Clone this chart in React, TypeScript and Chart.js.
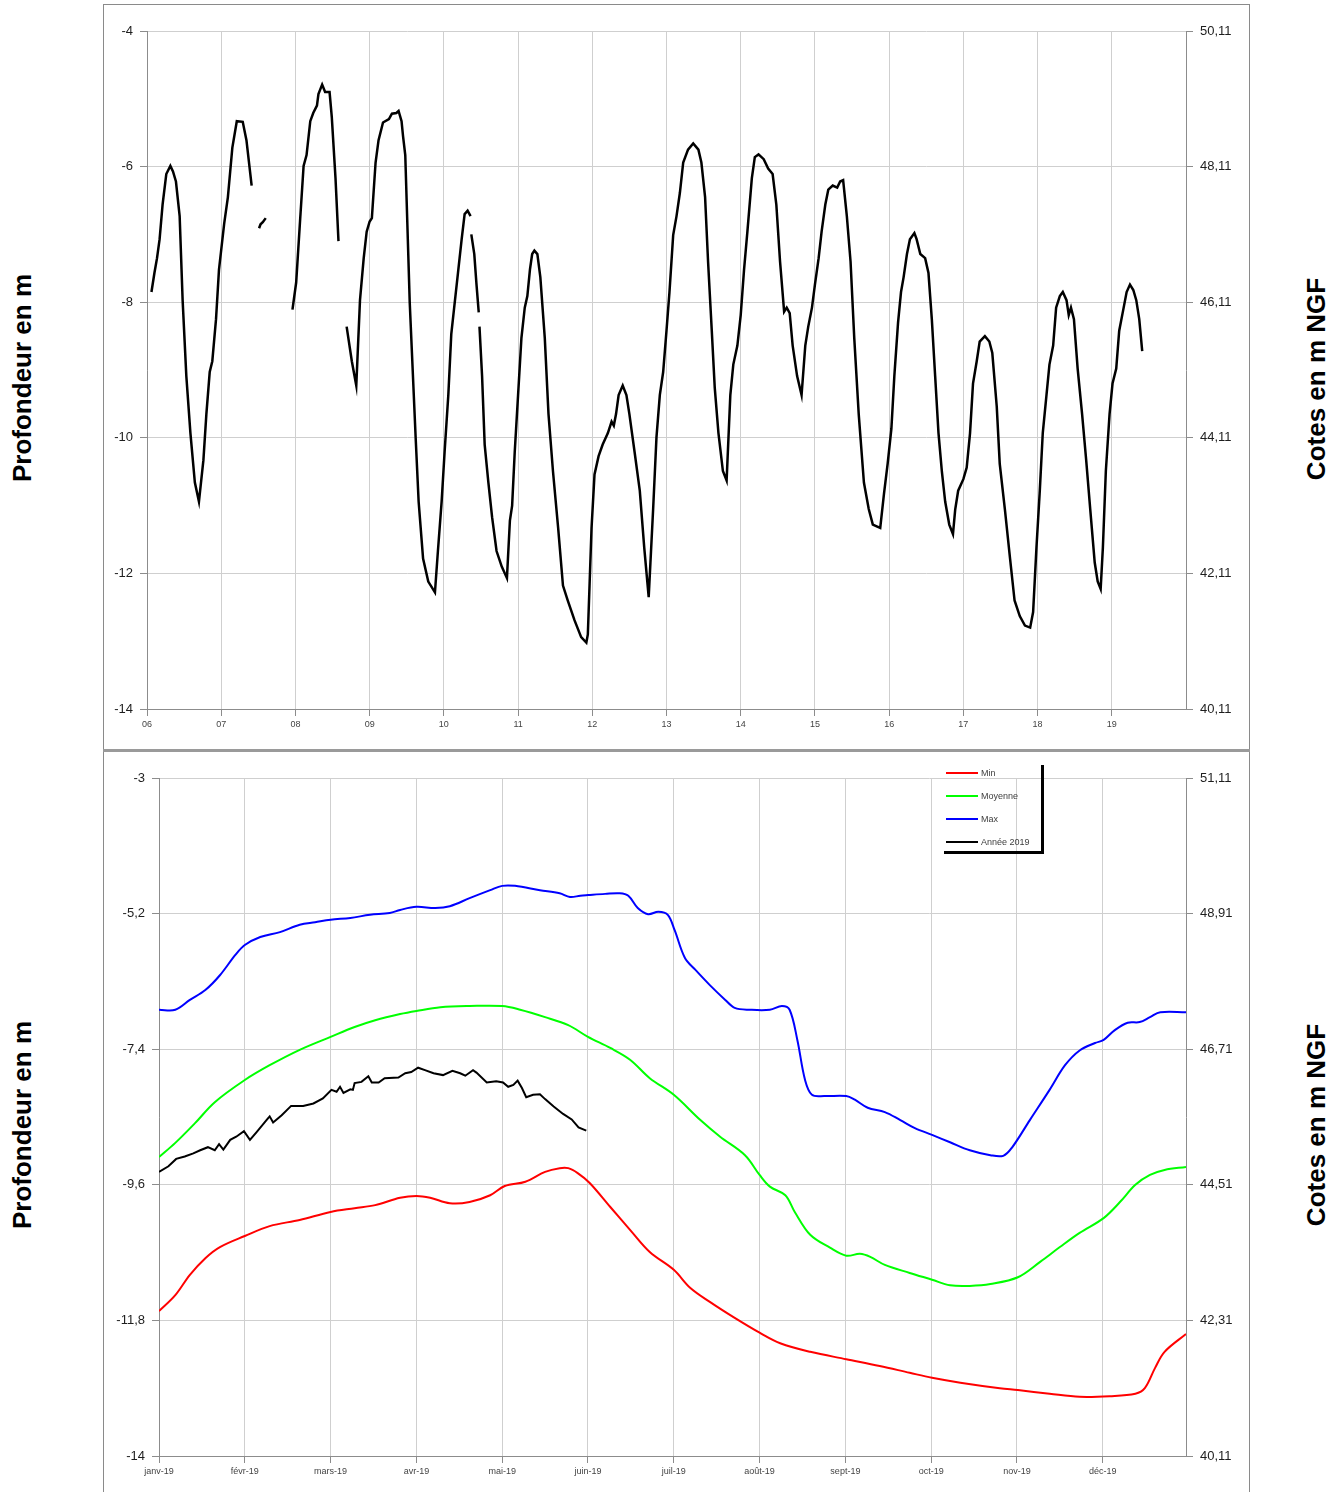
import React, { useEffect, useRef } from 'react';
import { Chart, registerables } from 'chart.js';

Chart.register(...registerables);

// ---------- Top chart: long-term series (year since 2000, depth in m) ----------
const topYears = [
  6.06, 6.10, 6.135, 6.17, 6.21, 6.26, 6.315, 6.35, 6.39, 6.44, 6.48, 6.53, 6.585, 6.645, 6.70, 6.76, 6.80, 6.845, 6.88, 6.93, 6.97, 7.04, 7.09, 7.15, 7.21, 7.29, 7.34, 7.41,
  7.46,
  7.51, 7.53, 7.56, 7.60,
  7.80,
  7.96, 8.01, 8.06, 8.11, 8.15, 8.20, 8.24, 8.29, 8.31, 8.36, 8.40, 8.46, 8.49, 8.54, 8.58,
  8.64,
  8.69, 8.76, 8.82, 8.87, 8.92, 8.96, 9.00, 9.03, 9.08, 9.12, 9.18, 9.26, 9.30, 9.36, 9.39, 9.43, 9.45, 9.48, 9.54, 9.62, 9.66, 9.72, 9.79, 9.88, 9.92, 9.97, 10.01, 10.06, 10.10, 10.15, 10.19, 10.24, 10.28, 10.32, 10.36,
  10.365,
  10.37, 10.41, 10.44, 10.47,
  10.475,
  10.48, 10.515, 10.55, 10.60, 10.65, 10.71, 10.78, 10.85, 10.89, 10.92, 10.955, 11.00, 11.045, 11.09, 11.125, 11.16, 11.19, 11.22, 11.26, 11.30, 11.36, 11.41, 11.47, 11.54, 11.605, 11.67, 11.76, 11.85, 11.92, 11.94, 11.99, 12.03, 12.085, 12.14, 12.21, 12.26, 12.29, 12.32, 12.355, 12.41, 12.46, 12.50, 12.57, 12.64, 12.70, 12.76,
  12.82, 12.865, 12.91, 12.955, 13.00, 13.04, 13.09, 13.135, 13.18, 13.225, 13.29, 13.36, 13.43, 13.47, 13.52, 13.56, 13.61, 13.65, 13.70, 13.76, 13.81, 13.86, 13.90, 13.955, 14.00, 14.045, 14.09, 14.15, 14.19, 14.24, 14.31, 14.37, 14.43, 14.48, 14.53, 14.585, 14.62, 14.66, 14.70, 14.76, 14.82, 14.87, 14.91, 14.96, 15.00, 15.05, 15.09, 15.14, 15.18, 15.24, 15.30, 15.34, 15.38, 15.43, 15.48, 15.53, 15.59, 15.66, 15.725, 15.78, 15.84, 15.88, 15.93, 15.98, 16.03, 16.07, 16.12, 16.16, 16.195, 16.24, 16.28, 16.34, 16.37, 16.42, 16.485, 16.53, 16.575, 16.62, 16.665, 16.71, 16.755, 16.81, 16.86, 16.89, 16.93, 17.00, 17.045, 17.09, 17.13, 17.18, 17.22, 17.29, 17.35, 17.39, 17.45, 17.49, 17.56, 17.63, 17.69, 17.76, 17.83, 17.90, 17.94, 17.985, 18.03, 18.07, 18.12, 18.16, 18.21, 18.25, 18.30, 18.34, 18.39, 18.42, 18.45, 18.49, 18.54, 18.60, 18.655, 18.71, 18.77, 18.81, 18.85, 18.88, 18.92, 18.97, 19.01, 19.06, 19.10, 19.16, 19.20, 19.245, 19.29, 19.33, 19.37, 19.41,
];
const topDepths = [
  -7.85, -7.57, -7.35, -7.07, -6.56, -6.11, -5.99, -6.07, -6.22, -6.73, -7.97, -9.09, -9.93, -10.66, -10.94, -10.33, -9.65, -9.03, -8.87, -8.25, -7.52, -6.84, -6.45, -5.72, -5.33, -5.34, -5.61, -6.28,
  null,
  -6.91, -6.85, -6.82, -6.76,
  null,
  -8.11, -7.71, -6.84, -5.99, -5.83, -5.33, -5.21, -5.10, -4.93, -4.79, -4.90, -4.90, -5.27, -6.17, -7.10,
  null,
  -8.36, -8.87, -9.23, -7.97, -7.35, -6.96, -6.81, -6.76, -5.94, -5.61, -5.35, -5.30, -5.22, -5.21, -5.18, -5.33, -5.55, -5.83, -8.0, -10.0, -10.94, -11.78, -12.12, -12.28, -11.67, -10.94, -10.21, -9.37, -8.47, -7.97, -7.57, -7.07, -6.70, -6.65, -6.73,
  null,
  -7.0, -7.29, -7.74, -8.15,
  null,
  -8.36, -9.09, -10.10, -10.66, -11.17, -11.67, -11.90, -12.07, -11.22, -11.0, -10.21, -9.37, -8.53, -8.08, -7.91, -7.52, -7.29, -7.24, -7.29, -7.63, -8.53, -9.65, -10.49, -11.33, -12.18, -12.40, -12.69, -12.94, -13.02, -12.90, -11.33, -10.54, -10.27, -10.10, -9.93, -9.76, -9.82, -9.65, -9.37, -9.23, -9.37, -9.65, -10.21, -10.78, -11.62, -12.35,
  -11.05, -9.99, -9.37, -9.03, -8.42, -7.85, -7.01, -6.73, -6.39, -5.94, -5.75, -5.66, -5.75, -5.94, -6.45, -7.40, -8.42, -9.26, -9.93, -10.49, -10.63, -9.37, -8.92, -8.64, -8.19, -7.52, -6.96, -6.17, -5.86, -5.82, -5.89, -6.03, -6.11, -6.56, -7.40, -8.14, -8.08, -8.16, -8.64, -9.09, -9.37, -8.64, -8.36, -8.08, -7.74, -7.35, -6.96, -6.56, -6.34, -6.28, -6.31, -6.22, -6.20, -6.73, -7.40, -8.53, -9.65, -10.66, -11.05, -11.28, -11.31, -11.33, -10.83, -10.38, -9.87, -9.09, -8.30, -7.85, -7.63, -7.29, -7.07, -6.98, -7.07, -7.29, -7.35, -7.57, -8.25, -9.09, -9.93, -10.49, -10.94, -11.28, -11.42, -11.06, -10.78, -10.61, -10.44, -9.93, -9.20, -8.87, -8.58, -8.50, -8.58, -8.75, -9.54, -10.38, -11.06, -11.79, -12.40, -12.63, -12.77, -12.80, -12.57, -11.62, -10.78, -9.93, -9.37, -8.92, -8.64, -8.08, -7.91, -7.85, -7.97, -8.19, -8.08, -8.25, -8.98, -9.65, -10.33, -11.06, -11.84, -12.12, -12.23, -11.62, -10.49, -9.65, -9.20, -8.98, -8.42, -8.08, -7.85, -7.74, -7.82, -7.97, -8.25, -8.72,
];
const topYearTicks = [6, 7, 8, 9, 10, 11, 12, 13, 14, 15, 16, 17, 18, 19];
const topDepthTicks = [-14, -12, -10, -8, -6, -4];
const topNgfTicks = [40.11, 42.11, 44.11, 46.11, 48.11, 50.11];

// ---------- Bottom chart: 2019 vs Min / Moyenne / Max (x = month index) ----------
const monthLabels = ['janv-19', 'févr-19', 'mars-19', 'avr-19', 'mai-19', 'juin-19', 'juil-19', 'août-19', 'sept-19', 'oct-19', 'nov-19', 'déc-19'];
const monthTicks = [0, 1, 2, 3, 4, 5, 6, 7, 8, 9, 10, 11];

const minMonths = [0, 0.19, 0.36, 0.54, 0.71, 1.0, 1.29, 1.64, 2.0, 2.28, 2.52, 2.81, 3.0, 3.16, 3.39, 3.62, 3.86, 4.03, 4.27, 4.50, 4.67, 4.77, 4.88, 5.02, 5.26, 5.49, 5.72, 6.00, 6.19, 6.42, 6.71, 7.00, 7.24, 7.59, 8.01, 8.40, 8.75, 9.01, 9.34, 9.80, 10.01, 10.38, 10.73, 11.08, 11.38, 11.49, 11.61, 11.72, 11.97];
const minValues = [-11.65, -11.39, -11.06, -10.79, -10.61, -10.43, -10.27, -10.17, -10.04, -9.98, -9.93, -9.81, -9.78, -9.81, -9.90, -9.88, -9.77, -9.62, -9.55, -9.39, -9.33, -9.33, -9.41, -9.57, -9.96, -10.33, -10.69, -10.98, -11.27, -11.50, -11.76, -12.00, -12.17, -12.31, -12.43, -12.54, -12.65, -12.73, -12.81, -12.90, -12.93, -12.99, -13.04, -13.03, -12.99, -12.90, -12.57, -12.31, -12.02];

const moyMonths = [0, 0.19, 0.42, 0.65, 1.0, 1.29, 1.64, 2.0, 2.28, 2.52, 2.81, 3.0, 3.28, 3.62, 4.0, 4.21, 4.50, 4.77, 5.0, 5.26, 5.49, 5.72, 6.00, 6.31, 6.54, 6.83, 7.00, 7.12, 7.30, 7.41, 7.59, 7.82, 8.01, 8.17, 8.29, 8.46, 8.75, 9.01, 9.22, 9.45, 9.69, 10.01, 10.27, 10.50, 10.73, 11.01, 11.20, 11.38, 11.55, 11.72, 11.97];
const moyValues = [-9.15, -8.92, -8.60, -8.26, -7.90, -7.66, -7.41, -7.20, -7.04, -6.93, -6.83, -6.78, -6.72, -6.70, -6.70, -6.76, -6.88, -7.01, -7.20, -7.38, -7.57, -7.87, -8.14, -8.55, -8.82, -9.12, -9.44, -9.63, -9.77, -10.04, -10.41, -10.62, -10.75, -10.72, -10.77, -10.90, -11.03, -11.14, -11.23, -11.24, -11.21, -11.10, -10.85, -10.61, -10.38, -10.14, -9.88, -9.60, -9.44, -9.36, -9.31];

const maxMonths = [0, 0.19, 0.36, 0.54, 0.71, 0.89, 1.0, 1.18, 1.41, 1.64, 1.82, 2.0, 2.23, 2.46, 2.69, 2.81, 3.0, 3.22, 3.39, 3.62, 3.86, 4.0, 4.15, 4.44, 4.67, 4.79, 4.91, 5.0, 5.2, 5.37, 5.47, 5.58, 5.70, 5.82, 5.93, 6.01, 6.13, 6.25, 6.42, 6.60, 6.71, 6.89, 7.12, 7.26, 7.35, 7.44, 7.53, 7.61, 7.76, 8.01, 8.11, 8.26, 8.46, 8.64, 8.81, 9.01, 9.22, 9.45, 9.69, 9.84, 9.94, 10.15, 10.38, 10.56, 10.73, 10.91, 11.01, 11.14, 11.29, 11.43, 11.55, 11.67, 11.97];
const maxValues = [-6.76, -6.76, -6.60, -6.44, -6.20, -5.87, -5.71, -5.58, -5.50, -5.38, -5.34, -5.30, -5.27, -5.22, -5.19, -5.14, -5.09, -5.11, -5.08, -4.95, -4.82, -4.75, -4.75, -4.82, -4.87, -4.93, -4.91, -4.90, -4.88, -4.87, -4.91, -5.11, -5.21, -5.17, -5.22, -5.47, -5.92, -6.11, -6.36, -6.60, -6.73, -6.76, -6.76, -6.70, -6.76, -7.25, -7.90, -8.14, -8.16, -8.16, -8.22, -8.35, -8.42, -8.55, -8.68, -8.79, -8.91, -9.04, -9.12, -9.13, -9.00, -8.55, -8.06, -7.66, -7.42, -7.30, -7.25, -7.09, -6.97, -6.96, -6.88, -6.80, -6.80];

const y2019Months = [0.0, 0.11, 0.20, 0.30, 0.40, 0.48, 0.57, 0.65, 0.70, 0.75, 0.83, 0.90, 0.99, 1.06, 1.14, 1.26, 1.29, 1.33, 1.43, 1.54, 1.68, 1.80, 1.91, 2.01, 2.07, 2.11, 2.15, 2.23, 2.26, 2.28, 2.36, 2.44, 2.48, 2.56, 2.63, 2.79, 2.87, 2.94, 3.02, 3.10, 3.20, 3.31, 3.42, 3.51, 3.57, 3.66, 3.70, 3.82, 3.93, 4.01, 4.07, 4.13, 4.18, 4.23, 4.28, 4.36, 4.44, 4.50, 4.60, 4.71, 4.81, 4.89, 4.98];
const y2019Values = [-9.39, -9.30, -9.18, -9.14, -9.09, -9.04, -8.99, -9.04, -8.94, -9.03, -8.87, -8.82, -8.73, -8.87, -8.74, -8.54, -8.49, -8.59, -8.47, -8.32, -8.32, -8.28, -8.20, -8.06, -8.09, -8.01, -8.11, -8.05, -8.06, -7.95, -7.93, -7.84, -7.94, -7.94, -7.87, -7.86, -7.79, -7.77, -7.70, -7.74, -7.79, -7.82, -7.75, -7.79, -7.83, -7.74, -7.78, -7.94, -7.92, -7.94, -8.01, -7.98, -7.91, -8.03, -8.18, -8.14, -8.13, -8.21, -8.33, -8.45, -8.54, -8.67, -8.72];

const bottomDepthTicks = [-14, -11.8, -9.6, -7.4, -5.2, -3];
const bottomNgfTicks = [40.11, 42.31, 44.51, 46.71, 48.91, 51.11];

const legendItems = [
  { label: 'Min', color: '#ff0000' },
  { label: 'Moyenne', color: '#00ff00' },
  { label: 'Max', color: '#0000ff' },
  { label: 'Année 2019', color: '#000000' },
];

// ---------- helpers ----------
const FONT = 'Liberation Sans, Arial, sans-serif';
const fmt = (v: number) => String(Math.round(v * 100) / 100).replace('.', ',');
const pts = (xs: number[], ys: (number | null)[]) => xs.map((x, i) => ({ x, y: ys[i] }));

function yScale(min: number, max: number, ticks: number[], width: number, position: 'left' | 'right', onChart: boolean) {
  return {
    type: 'linear',
    position,
    min,
    max,
    afterBuildTicks: (s: any) => { s.ticks = ticks.map((v) => ({ value: v })); },
    afterFit: (s: any) => { s.width = width; },
    grid: { display: true, drawOnChartArea: onChart, color: '#cfcfcf', lineWidth: 1, tickLength: 7, tickColor: '#8c8c8c' },
    border: { display: true, color: '#8c8c8c', width: 1 },
    ticks: { callback: (v: any) => fmt(Number(v)), font: { family: FONT, size: 13 }, color: '#1e1e1e', padding: 7, autoSkip: false },
  };
}

function xScale(min: number, max: number, ticks: number[], height: number, label: (v: number) => string) {
  return {
    type: 'linear',
    min,
    max,
    afterBuildTicks: (s: any) => { s.ticks = ticks.map((v) => ({ value: v })); },
    afterFit: (s: any) => { s.height = height; },
    grid: { display: true, color: '#cfcfcf', lineWidth: 1, tickLength: 7, tickColor: '#8c8c8c' },
    border: { display: true, color: '#8c8c8c', width: 1 },
    ticks: { callback: (v: any) => label(Number(v)), font: { family: FONT, size: 9 }, color: '#444', padding: 3, maxRotation: 0, autoSkip: false },
  };
}

function TopChart() {
  const ref = useRef<HTMLCanvasElement>(null);
  useEffect(() => {
    const chart = new Chart(ref.current as HTMLCanvasElement, {
      type: 'line',
      data: {
        datasets: [
          {
            label: 'Profondeur',
            data: pts(topYears, topDepths) as any,
            borderColor: '#000',
            borderWidth: 2.5,
            pointRadius: 0,
            tension: 0,
            spanGaps: false,
            yAxisID: 'y',
          },
        ],
      },
      options: {
        responsive: false,
        animation: false,
        layout: { padding: { top: 26, left: 0, right: 0, bottom: 0 } },
        plugins: { legend: { display: false }, tooltip: { enabled: false } },
        scales: {
          x: xScale(6, 20, topYearTicks, 40, (v) => String(v).padStart(2, '0')) as any,
          y: yScale(-14, -4, topDepthTicks, 43, 'left', true) as any,
          y2: yScale(40.11, 50.11, topNgfTicks, 62, 'right', false) as any,
        },
      },
    });
    return () => chart.destroy();
  }, []);
  return <canvas ref={ref} width={1144} height={744} style={{ position: 'absolute', left: 104, top: 5, width: 1144, height: 744 }} />;
}

function BottomChart() {
  const ref = useRef<HTMLCanvasElement>(null);
  useEffect(() => {
    const mk = (label: string, xs: number[], ys: number[], color: string) => ({
      label,
      data: pts(xs, ys) as any,
      borderColor: color,
      borderWidth: 2,
      pointRadius: 0,
      tension: color === '#000000' ? 0 : 0.35,
      yAxisID: 'y',
    });
    const chart = new Chart(ref.current as HTMLCanvasElement, {
      type: 'line',
      data: {
        datasets: [
          mk('Min', minMonths, minValues, '#ff0000'),
          mk('Moyenne', moyMonths, moyValues, '#00ff00'),
          mk('Max', maxMonths, maxValues, '#0000ff'),
          mk('Année 2019', y2019Months, y2019Values, '#000000'),
        ],
      },
      options: {
        responsive: false,
        animation: false,
        layout: { padding: { top: 27, left: 0, right: 0, bottom: 0 } },
        plugins: { legend: { display: false }, tooltip: { enabled: false } },
        scales: {
          x: xScale(0, 11.97, monthTicks, 36, (v) => monthLabels[Math.round(v)] ?? '') as any,
          y: yScale(-14, -3, bottomDepthTicks, 55, 'left', true) as any,
          y2: yScale(40.11, 51.11, bottomNgfTicks, 62, 'right', false) as any,
        },
      },
    });
    return () => chart.destroy();
  }, []);
  return <canvas ref={ref} width={1144} height={741} style={{ position: 'absolute', left: 104, top: 751, width: 1144, height: 741 }} />;
}

const vLabel = (text: string, cx: number, cy: number) => (
  <div
    style={{
      position: 'absolute',
      left: cx,
      top: cy,
      transform: 'translate(-50%, -50%) rotate(-90deg)',
      whiteSpace: 'nowrap',
      fontFamily: FONT,
      fontWeight: 'bold',
      fontSize: 26,
      color: '#000',
      lineHeight: 1,
    }}
  >
    {text}
  </div>
);

export default function App() {
  return (
    <div style={{ position: 'absolute', left: 0, top: 0, width: 1343, height: 1492, background: '#fff', overflow: 'hidden' }}>
      {/* frames */}
      <div style={{ position: 'absolute', left: 103, top: 4, width: 1145, height: 746, border: '1px solid #8a8a8a', borderBottom: 'none' }} />
      <div style={{ position: 'absolute', left: 103, top: 750, width: 1147, height: 742, borderLeft: '1px solid #8a8a8a', borderRight: '1px solid #8a8a8a', boxSizing: 'border-box' }} />
      <TopChart />
      <BottomChart />
      <div style={{ position: 'absolute', left: 103, top: 749, width: 1147, height: 3, background: '#9a9a9a' }} />
      {vLabel('Profondeur en m', 22, 378)}
      {vLabel('Cotes en m NGF', 1316, 379)}
      {vLabel('Profondeur en m', 22, 1125)}
      {vLabel('Cotes en m NGF', 1316, 1125)}
      {/* legend of bottom chart */}
      <div style={{ position: 'absolute', left: 944, top: 765, width: 100, height: 89 }}>
        <div style={{ position: 'absolute', right: 0, top: 0, width: 3, height: 89, background: '#000' }} />
        <div style={{ position: 'absolute', left: 0, bottom: 0, width: 100, height: 3, background: '#000' }} />
        {legendItems.map((it, i) => (
          <div key={it.label} style={{ position: 'absolute', left: 2, top: 2 + i * 23, height: 12, display: 'flex', alignItems: 'center' }}>
            <div style={{ width: 32, height: 2, background: it.color }} />
            <span style={{ marginLeft: 3, fontFamily: FONT, fontSize: 9, color: '#404040', whiteSpace: 'nowrap' }}>{it.label}</span>
          </div>
        ))}
      </div>
    </div>
  );
}
